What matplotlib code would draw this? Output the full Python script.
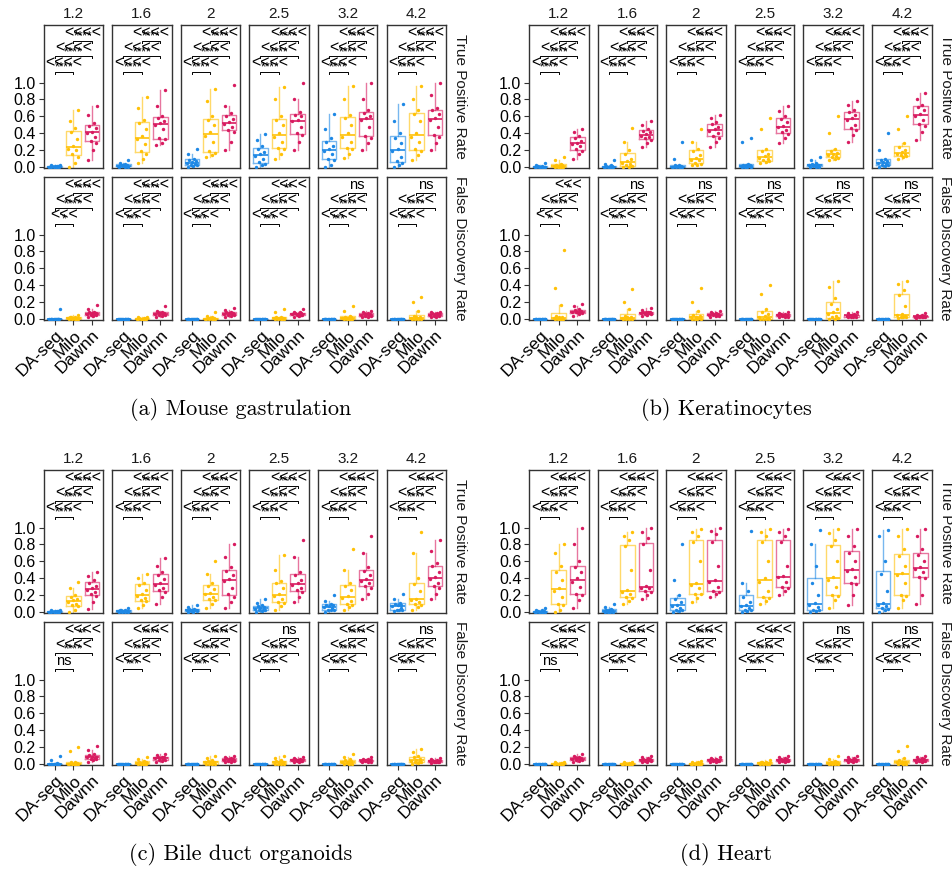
import matplotlib
matplotlib.use("Agg")
import matplotlib.pyplot as plt
from matplotlib import cbook

plt.rcParams['font.family'] = ['Liberation Sans', 'DejaVu Sans']

THRESHOLDS = ["1.2", "1.6", "2", "2.5", "3.2", "4.2"]
METHODS = ["DA-seq", "Milo", "Dawnn"]
COLORS = ["#1E88E5", "#FFC107", "#D81B60"]
ZERO = [0, 0, 0, 0, 0, 0, 0, 0, 0, 0, 0, 0.005]

# (a) Mouse gastrulation
MOUSE_TPR_DASEQ = [
    [0, 0, 0, 0, 0.005, 0.005, 0.01, 0.01, 0.01, 0.015, 0.02, 0.02],
    [0, 0, 0.005, 0.01, 0.01, 0.015, 0.02, 0.02, 0.03, 0.04, 0.05, 0.08],
    [0, 0.01, 0.02, 0.03, 0.04, 0.05, 0.06, 0.07, 0.09, 0.1, 0.15, 0.21],
    [0, 0.02, 0.04, 0.06, 0.1, 0.13, 0.15, 0.18, 0.22, 0.25, 0.32, 0.39],
    [0, 0.03, 0.08, 0.1, 0.15, 0.19, 0.21, 0.25, 0.3, 0.34, 0.45, 0.63],
    [0, 0.02, 0.05, 0.07, 0.12, 0.19, 0.22, 0.28, 0.35, 0.4, 0.55, 0.75]]
MOUSE_TPR_MILO = [
    [0, 0.05, 0.12, 0.15, 0.2, 0.22, 0.25, 0.33, 0.42, 0.46, 0.55, 0.67],
    [0.05, 0.1, 0.16, 0.19, 0.27, 0.33, 0.37, 0.45, 0.52, 0.56, 0.7, 0.83],
    [0.12, 0.14, 0.17, 0.19, 0.3, 0.37, 0.41, 0.5, 0.56, 0.6, 0.78, 0.92],
    [0.1, 0.15, 0.21, 0.23, 0.3, 0.36, 0.4, 0.5, 0.56, 0.6, 0.8, 0.95],
    [0.11, 0.15, 0.21, 0.23, 0.3, 0.36, 0.4, 0.5, 0.58, 0.62, 0.8, 0.96],
    [0.08, 0.14, 0.19, 0.21, 0.3, 0.36, 0.4, 0.55, 0.63, 0.67, 0.8, 0.96]]
MOUSE_TPR_DAWNN = [
    [0.09, 0.2, 0.29, 0.31, 0.36, 0.4, 0.42, 0.46, 0.49, 0.52, 0.62, 0.72],
    [0.26, 0.28, 0.33, 0.34, 0.45, 0.5, 0.52, 0.55, 0.58, 0.61, 0.72, 0.91],
    [0.2, 0.3, 0.42, 0.44, 0.48, 0.51, 0.53, 0.57, 0.61, 0.64, 0.72, 0.97],
    [0.2, 0.3, 0.38, 0.4, 0.47, 0.54, 0.56, 0.6, 0.62, 0.65, 0.8, 0.99],
    [0.2, 0.28, 0.35, 0.37, 0.48, 0.56, 0.58, 0.61, 0.64, 0.68, 0.8, 1.0],
    [0.2, 0.28, 0.36, 0.38, 0.48, 0.56, 0.58, 0.63, 0.67, 0.7, 0.85, 1.0]]
MOUSE_FDR_DASEQ = [
    [0, 0, 0, 0, 0, 0, 0, 0, 0, 0, 0.005, 0.12], ZERO, ZERO, ZERO, ZERO, ZERO]
MOUSE_FDR_MILO = [
    [0, 0, 0, 0, 0.005, 0.01, 0.01, 0.015, 0.02, 0.02, 0.03, 0.05],
    [0, 0, 0, 0, 0, 0.005, 0.005, 0.01, 0.01, 0.015, 0.02, 0.02],
    [0, 0, 0, 0, 0.005, 0.005, 0.01, 0.01, 0.015, 0.02, 0.04, 0.08],
    [0, 0, 0, 0, 0.005, 0.01, 0.01, 0.015, 0.02, 0.03, 0.08, 0.12],
    [0, 0, 0, 0, 0.005, 0.01, 0.01, 0.02, 0.03, 0.04, 0.1, 0.15],
    [0, 0, 0, 0.005, 0.01, 0.01, 0.02, 0.03, 0.04, 0.1, 0.2, 0.26]]
MOUSE_FDR_DAWNN = [
    [0.03, 0.04, 0.05, 0.05, 0.06, 0.06, 0.07, 0.07, 0.08, 0.09, 0.12, 0.17],
    [0.03, 0.04, 0.05, 0.05, 0.06, 0.06, 0.07, 0.07, 0.08, 0.08, 0.1, 0.16],
    [0.03, 0.04, 0.05, 0.05, 0.06, 0.06, 0.07, 0.07, 0.08, 0.08, 0.11, 0.13],
    [0.03, 0.04, 0.05, 0.05, 0.05, 0.06, 0.06, 0.07, 0.07, 0.08, 0.09, 0.12],
    [0.02, 0.03, 0.04, 0.04, 0.05, 0.05, 0.06, 0.06, 0.07, 0.07, 0.08, 0.1],
    [0.02, 0.03, 0.04, 0.04, 0.05, 0.05, 0.06, 0.06, 0.07, 0.07, 0.08, 0.09]]
MOUSE_FDR_SIG = [["*", "****", "****"], ["***", "****", "****"], ["***", "****", "****"],
                 ["***", "****", "**"], ["***", "****", "ns"], ["***", "****", "ns"]]

# (b) Keratinocytes
KERA_TPR_DASEQ = [
    [0, 0, 0, 0, 0, 0, 0.005, 0.005, 0.01, 0.01, 0.02, 0.05],
    [0, 0, 0, 0, 0, 0.005, 0.005, 0.01, 0.01, 0.02, 0.04, 0.08],
    [0, 0, 0, 0, 0.005, 0.005, 0.01, 0.01, 0.02, 0.03, 0.1, 0.3],
    [0, 0, 0, 0.005, 0.01, 0.01, 0.02, 0.02, 0.03, 0.04, 0.3, 0.35],
    [0, 0, 0.005, 0.01, 0.02, 0.02, 0.03, 0.03, 0.04, 0.05, 0.08, 0.12],
    [0, 0.01, 0.02, 0.03, 0.04, 0.05, 0.06, 0.07, 0.09, 0.1, 0.2, 0.4]]
KERA_TPR_MILO = [
    [0, 0, 0, 0, 0.005, 0.01, 0.01, 0.02, 0.03, 0.04, 0.08, 0.12],
    [0, 0, 0.01, 0.02, 0.04, 0.05, 0.07, 0.1, 0.16, 0.2, 0.3, 0.46],
    [0.02, 0.03, 0.04, 0.05, 0.08, 0.09, 0.11, 0.14, 0.19, 0.22, 0.3, 0.45],
    [0.05, 0.06, 0.07, 0.08, 0.1, 0.11, 0.13, 0.15, 0.19, 0.22, 0.45, 0.58],
    [0.08, 0.1, 0.11, 0.12, 0.13, 0.14, 0.16, 0.17, 0.19, 0.22, 0.4, 0.6],
    [0.1, 0.12, 0.13, 0.14, 0.15, 0.16, 0.18, 0.2, 0.24, 0.28, 0.45, 0.6]]
KERA_TPR_DAWNN = [
    [0.1, 0.15, 0.19, 0.21, 0.25, 0.27, 0.29, 0.31, 0.35, 0.37, 0.41, 0.45],
    [0.24, 0.28, 0.32, 0.34, 0.36, 0.37, 0.39, 0.41, 0.43, 0.45, 0.5, 0.55],
    [0.24, 0.3, 0.35, 0.37, 0.4, 0.43, 0.45, 0.48, 0.51, 0.53, 0.58, 0.62],
    [0.28, 0.34, 0.39, 0.41, 0.44, 0.47, 0.49, 0.53, 0.57, 0.6, 0.66, 0.72],
    [0.3, 0.38, 0.44, 0.46, 0.5, 0.56, 0.58, 0.62, 0.65, 0.68, 0.73, 0.78],
    [0.32, 0.42, 0.49, 0.51, 0.56, 0.61, 0.63, 0.67, 0.71, 0.74, 0.8, 0.88]]
KERA_FDR_DASEQ = [ZERO, ZERO, ZERO, ZERO, ZERO, ZERO]
KERA_FDR_MILO = [
    [0, 0, 0, 0, 0, 0.01, 0.02, 0.03, 0.04, 0.17, 0.37, 0.82],
    [0, 0, 0, 0, 0.01, 0.01, 0.02, 0.03, 0.04, 0.12, 0.2, 0.36],
    [0, 0, 0, 0, 0.01, 0.02, 0.03, 0.04, 0.05, 0.1, 0.2, 0.37],
    [0, 0, 0, 0, 0.01, 0.02, 0.04, 0.06, 0.09, 0.12, 0.3, 0.4],
    [0, 0, 0.01, 0.02, 0.04, 0.06, 0.08, 0.12, 0.18, 0.25, 0.38, 0.45],
    [0.01, 0.02, 0.03, 0.03, 0.04, 0.05, 0.06, 0.15, 0.28, 0.35, 0.42, 0.45]]
KERA_FDR_DAWNN = [
    [0.04, 0.06, 0.07, 0.08, 0.08, 0.09, 0.09, 0.1, 0.11, 0.12, 0.15, 0.18],
    [0.04, 0.05, 0.06, 0.06, 0.07, 0.07, 0.08, 0.08, 0.09, 0.09, 0.11, 0.13],
    [0.03, 0.04, 0.04, 0.05, 0.05, 0.05, 0.06, 0.06, 0.07, 0.07, 0.08, 0.1],
    [0.02, 0.03, 0.03, 0.04, 0.04, 0.05, 0.05, 0.05, 0.06, 0.06, 0.07, 0.08],
    [0.02, 0.03, 0.03, 0.03, 0.04, 0.04, 0.05, 0.05, 0.05, 0.06, 0.07, 0.08],
    [0.01, 0.02, 0.02, 0.03, 0.03, 0.03, 0.04, 0.04, 0.04, 0.05, 0.05, 0.07]]
KERA_FDR_SIG = [["*", "****", "*"], ["***", "****", "ns"], ["***", "****", "ns"],
                ["***", "****", "ns"], ["***", "****", "ns"], ["***", "****", "ns"]]

# (c) Bile duct organoids
BILE_TPR_DASEQ = [
    [0, 0, 0, 0, 0.005, 0.005, 0.01, 0.01, 0.01, 0.015, 0.02, 0.02],
    [0, 0, 0, 0.005, 0.01, 0.01, 0.01, 0.015, 0.02, 0.02, 0.03, 0.05],
    [0, 0, 0.01, 0.01, 0.02, 0.02, 0.02, 0.03, 0.04, 0.04, 0.06, 0.08],
    [0, 0.01, 0.02, 0.02, 0.03, 0.04, 0.05, 0.06, 0.07, 0.08, 0.11, 0.15],
    [0, 0.02, 0.03, 0.03, 0.05, 0.06, 0.07, 0.08, 0.09, 0.1, 0.13, 0.2],
    [0.01, 0.02, 0.03, 0.03, 0.05, 0.07, 0.08, 0.09, 0.1, 0.11, 0.15, 0.22]]
BILE_TPR_MILO = [
    [0, 0.03, 0.07, 0.08, 0.1, 0.12, 0.14, 0.16, 0.18, 0.2, 0.28, 0.36],
    [0.05, 0.09, 0.13, 0.14, 0.17, 0.19, 0.21, 0.26, 0.32, 0.35, 0.4, 0.45],
    [0.05, 0.1, 0.14, 0.15, 0.18, 0.21, 0.23, 0.27, 0.31, 0.34, 0.45, 0.6],
    [0.02, 0.07, 0.11, 0.12, 0.15, 0.19, 0.21, 0.28, 0.34, 0.37, 0.5, 0.68],
    [0.02, 0.06, 0.09, 0.1, 0.13, 0.17, 0.19, 0.26, 0.31, 0.35, 0.5, 0.75],
    [0.02, 0.06, 0.09, 0.1, 0.12, 0.14, 0.16, 0.25, 0.33, 0.4, 0.7, 0.95]]
BILE_TPR_DAWNN = [
    [0.04, 0.12, 0.19, 0.21, 0.24, 0.26, 0.28, 0.31, 0.35, 0.38, 0.43, 0.48],
    [0.1, 0.18, 0.24, 0.26, 0.29, 0.32, 0.34, 0.39, 0.44, 0.47, 0.55, 0.64],
    [0.05, 0.12, 0.18, 0.21, 0.28, 0.37, 0.39, 0.44, 0.49, 0.53, 0.65, 0.8],
    [0.12, 0.18, 0.24, 0.26, 0.29, 0.32, 0.34, 0.38, 0.44, 0.47, 0.65, 0.85],
    [0.15, 0.22, 0.29, 0.31, 0.34, 0.37, 0.39, 0.44, 0.49, 0.53, 0.7, 0.9],
    [0.15, 0.22, 0.29, 0.31, 0.35, 0.39, 0.41, 0.48, 0.54, 0.58, 0.72, 0.85]]
BILE_FDR_DASEQ = [
    [0, 0, 0, 0, 0, 0, 0, 0, 0.005, 0.01, 0.05, 0.1], ZERO, ZERO, ZERO, ZERO, ZERO]
BILE_FDR_MILO = [
    [0, 0, 0, 0, 0, 0, 0.005, 0.01, 0.02, 0.03, 0.15, 0.2],
    [0, 0, 0, 0, 0.005, 0.01, 0.01, 0.02, 0.03, 0.04, 0.06, 0.09],
    [0, 0, 0, 0.005, 0.01, 0.02, 0.02, 0.03, 0.04, 0.05, 0.07, 0.1],
    [0, 0, 0, 0.005, 0.01, 0.02, 0.03, 0.03, 0.04, 0.05, 0.07, 0.1],
    [0, 0, 0.005, 0.01, 0.02, 0.02, 0.03, 0.04, 0.05, 0.06, 0.08, 0.12],
    [0, 0.01, 0.02, 0.02, 0.03, 0.04, 0.05, 0.06, 0.08, 0.1, 0.14, 0.18]]
BILE_FDR_DAWNN = [
    [0.03, 0.05, 0.06, 0.06, 0.07, 0.08, 0.08, 0.09, 0.11, 0.12, 0.17, 0.22],
    [0.03, 0.04, 0.05, 0.05, 0.06, 0.07, 0.07, 0.08, 0.09, 0.09, 0.11, 0.12],
    [0.02, 0.03, 0.04, 0.04, 0.05, 0.05, 0.06, 0.06, 0.07, 0.07, 0.08, 0.1],
    [0.02, 0.03, 0.04, 0.04, 0.04, 0.05, 0.05, 0.05, 0.06, 0.06, 0.07, 0.09],
    [0.02, 0.03, 0.03, 0.04, 0.04, 0.04, 0.05, 0.05, 0.05, 0.06, 0.06, 0.08],
    [0.01, 0.02, 0.03, 0.03, 0.03, 0.04, 0.04, 0.04, 0.05, 0.05, 0.06, 0.07]]
BILE_FDR_SIG = [["ns", "****", "**"], ["***", "****", "****"], ["***", "****", "****"],
                ["***", "****", "ns"], ["***", "****", "****"], ["***", "****", "ns"]]

# (d) Heart
HEART_TPR_DASEQ = [
    [0, 0, 0, 0, 0, 0.005, 0.005, 0.01, 0.01, 0.02, 0.03, 0.05],
    [0, 0, 0, 0.005, 0.01, 0.01, 0.02, 0.02, 0.03, 0.04, 0.06, 0.1],
    [0, 0.01, 0.02, 0.03, 0.05, 0.07, 0.09, 0.12, 0.15, 0.2, 0.38, 0.8],
    [0, 0.01, 0.02, 0.03, 0.05, 0.07, 0.08, 0.12, 0.18, 0.25, 0.35, 0.96],
    [0, 0.01, 0.02, 0.03, 0.06, 0.09, 0.11, 0.2, 0.35, 0.55, 0.8, 0.97],
    [0, 0.02, 0.04, 0.05, 0.07, 0.09, 0.11, 0.25, 0.45, 0.6, 0.9, 0.97]]
HEART_TPR_MILO = [
    [0, 0.03, 0.08, 0.1, 0.18, 0.25, 0.29, 0.38, 0.48, 0.55, 0.7, 0.8],
    [0.1, 0.13, 0.17, 0.18, 0.22, 0.24, 0.26, 0.5, 0.78, 0.85, 0.9, 0.95],
    [0.12, 0.17, 0.21, 0.22, 0.28, 0.32, 0.34, 0.6, 0.83, 0.9, 0.95, 0.98],
    [0.1, 0.13, 0.17, 0.18, 0.25, 0.36, 0.4, 0.6, 0.83, 0.9, 0.95, 0.98],
    [0.05, 0.14, 0.19, 0.2, 0.3, 0.38, 0.42, 0.6, 0.78, 0.85, 0.93, 0.98],
    [0.05, 0.14, 0.19, 0.2, 0.35, 0.44, 0.46, 0.55, 0.66, 0.75, 0.9, 0.98]]
HEART_TPR_DAWNN = [
    [0.05, 0.14, 0.2, 0.22, 0.3, 0.36, 0.4, 0.48, 0.53, 0.6, 0.8, 1.0],
    [0.15, 0.2, 0.24, 0.25, 0.28, 0.29, 0.31, 0.5, 0.8, 0.88, 0.95, 1.0],
    [0.18, 0.21, 0.24, 0.25, 0.3, 0.36, 0.38, 0.55, 0.83, 0.92, 0.96, 1.0],
    [0.2, 0.25, 0.29, 0.3, 0.36, 0.41, 0.43, 0.55, 0.83, 0.9, 0.95, 0.98],
    [0.08, 0.2, 0.33, 0.35, 0.42, 0.49, 0.51, 0.6, 0.7, 0.78, 0.9, 0.98],
    [0.1, 0.2, 0.4, 0.42, 0.48, 0.51, 0.53, 0.6, 0.68, 0.75, 0.9, 0.98]]
HEART_FDR_DASEQ = [ZERO, ZERO, ZERO, ZERO, ZERO, ZERO]
HEART_FDR_MILO = [
    [0, 0, 0, 0, 0, 0.005, 0.005, 0.01, 0.01, 0.015, 0.02, 0.03],
    [0, 0, 0, 0, 0, 0.005, 0.005, 0.01, 0.01, 0.015, 0.02, 0.03],
    [0, 0, 0, 0, 0.005, 0.005, 0.01, 0.01, 0.015, 0.02, 0.03, 0.04],
    [0, 0, 0, 0, 0.005, 0.01, 0.01, 0.015, 0.02, 0.02, 0.03, 0.05],
    [0, 0, 0, 0.005, 0.01, 0.01, 0.015, 0.02, 0.03, 0.04, 0.06, 0.1],
    [0, 0, 0.005, 0.01, 0.01, 0.02, 0.02, 0.03, 0.05, 0.07, 0.15, 0.22]]
HEART_FDR_DAWNN = [
    [0.03, 0.04, 0.05, 0.05, 0.06, 0.06, 0.07, 0.07, 0.08, 0.08, 0.1, 0.12],
    [0.02, 0.03, 0.04, 0.04, 0.05, 0.05, 0.05, 0.06, 0.06, 0.07, 0.08, 0.1],
    [0.02, 0.03, 0.04, 0.04, 0.04, 0.05, 0.05, 0.05, 0.06, 0.06, 0.07, 0.09],
    [0.02, 0.03, 0.04, 0.04, 0.04, 0.05, 0.05, 0.06, 0.06, 0.07, 0.08, 0.1],
    [0.02, 0.03, 0.04, 0.04, 0.05, 0.05, 0.05, 0.06, 0.06, 0.07, 0.08, 0.1],
    [0.02, 0.03, 0.04, 0.04, 0.04, 0.05, 0.05, 0.06, 0.06, 0.07, 0.08, 0.1]]
HEART_FDR_SIG = [["ns", "****", "****"], ["***", "****", "****"], ["***", "****", "****"],
                 ["***", "****", "**"], ["***", "****", "ns"], ["***", "****", "ns"]]

TPR_SIG = [["****", "****", "****"]] * 6
BRACKETS = [(1, 2, 1.13), (1, 3, 1.31), (2, 3, 1.49)]
JITTER = [-0.22, 0.08, 0.25, -0.06, 0.16, -0.28, 0.0, 0.2, -0.14, 0.1, -0.2, 0.27]

W, H = 952, 876
fig = plt.figure(figsize=(W / 100, H / 100), dpi=100)


def px_axes(x, y, w, h):
    return fig.add_axes([x / W, 1 - (y + h) / H, w / W, h / H])


def draw_cell(ax, groups, sigs, first_col, bottom_row):
    for k, (pts, col) in enumerate(zip(groups, COLORS)):
        stats = cbook.boxplot_stats(pts)
        ax.bxp(stats, positions=[k + 1], widths=0.78, showfliers=False, showcaps=False,
               boxprops=dict(color=col, lw=1, alpha=0.6),
               whiskerprops=dict(color=col, lw=1, alpha=0.6),
               medianprops=dict(color=col, lw=1.4, alpha=0.85))
        xs = [k + 1 + JITTER[j % len(JITTER)] for j in range(len(pts))]
        ax.scatter(xs, pts, s=6, color=col, lw=0, zorder=3)
    for (a, b, yb), sig in zip(BRACKETS, sigs):
        ax.plot([a, a, b, b], [yb - 0.025, yb, yb, yb - 0.025], color="black", lw=0.7)
        xm = (a + b) / 2
        if sig == "ns":
            ax.text(xm, yb + 0.01, "ns", ha="center", va="bottom", fontsize=10.5)
        else:
            lt = "<<<<" if len(sig) >= 2 else "<<<"
            ax.text(xm, yb + 0.05, sig, ha="center", va="center", fontsize=8.5)
            ax.text(xm, yb + 0.1, lt, ha="center", va="center", fontsize=11.5)
    ax.set_xlim(0.4, 3.6)
    ax.set_ylim(-0.01, 1.68)
    ax.set_yticks([0, 0.2, 0.4, 0.6, 0.8, 1.0])
    ax.set_xticks([1, 2, 3])
    if first_col:
        ax.set_yticklabels(["0.0", "0.2", "0.4", "0.6", "0.8", "1.0"])
    else:
        ax.tick_params(axis="y", left=False, labelleft=False)
    if bottom_row:
        ax.set_xticklabels(METHODS, rotation=45, ha="right", va="top",
                           rotation_mode="anchor", fontsize=12.5)
    else:
        ax.tick_params(axis="x", bottom=False, labelbottom=False)
    ax.tick_params(axis="y", labelsize=11.5)
    ax.tick_params(length=3.5, width=0.8, color="#333333", pad=2)
    for s in ax.spines.values():
        s.set_color("#333333")
        s.set_linewidth(1.0)


panels = [
    ("(a) Mouse gastrulation", 0, 0,
     [MOUSE_TPR_DASEQ, MOUSE_TPR_MILO, MOUSE_TPR_DAWNN],
     [MOUSE_FDR_DASEQ, MOUSE_FDR_MILO, MOUSE_FDR_DAWNN], MOUSE_FDR_SIG),
    ("(b) Keratinocytes", 485.5, 0,
     [KERA_TPR_DASEQ, KERA_TPR_MILO, KERA_TPR_DAWNN],
     [KERA_FDR_DASEQ, KERA_FDR_MILO, KERA_FDR_DAWNN], KERA_FDR_SIG),
    ("(c) Bile duct organoids", 0, 445,
     [BILE_TPR_DASEQ, BILE_TPR_MILO, BILE_TPR_DAWNN],
     [BILE_FDR_DASEQ, BILE_FDR_MILO, BILE_FDR_DAWNN], BILE_FDR_SIG),
    ("(d) Heart", 485.5, 445,
     [HEART_TPR_DASEQ, HEART_TPR_MILO, HEART_TPR_DAWNN],
     [HEART_FDR_DASEQ, HEART_FDR_MILO, HEART_FDR_DAWNN], HEART_FDR_SIG),
]

for caption, dx, dy, tpr, fdr, fdr_sig in panels:
    for i, thr in enumerate(THRESHOLDS):
        x0 = 43.5 + dx + 68.6 * i
        ax1 = px_axes(x0, 25 + dy, 59.5, 143)
        draw_cell(ax1, [m[i] for m in tpr], TPR_SIG[i], i == 0, False)
        ax1.set_title(thr, fontsize=11, pad=5, color="#1a1a1a")
        ax2 = px_axes(x0, 177 + dy, 59.5, 143)
        draw_cell(ax2, [m[i] for m in fdr], fdr_sig[i], i == 0, True)
    xr = (43.5 + dx + 68.6 * 5 + 59.5 + 14) / W
    fig.text(xr, 1 - (96.5 + dy) / H, "True Positive Rate", rotation=-90,
             ha="center", va="center", fontsize=11, color="#1a1a1a")
    fig.text(xr, 1 - (248.5 + dy) / H, "False Discovery Rate", rotation=-90,
             ha="center", va="center", fontsize=11, color="#1a1a1a")
    fig.text((241 + dx) / W, 1 - (410 + dy) / H, caption, ha="center", va="center",
             fontsize=16, family="cmr10")

fig.savefig("out.png", dpi=100)
